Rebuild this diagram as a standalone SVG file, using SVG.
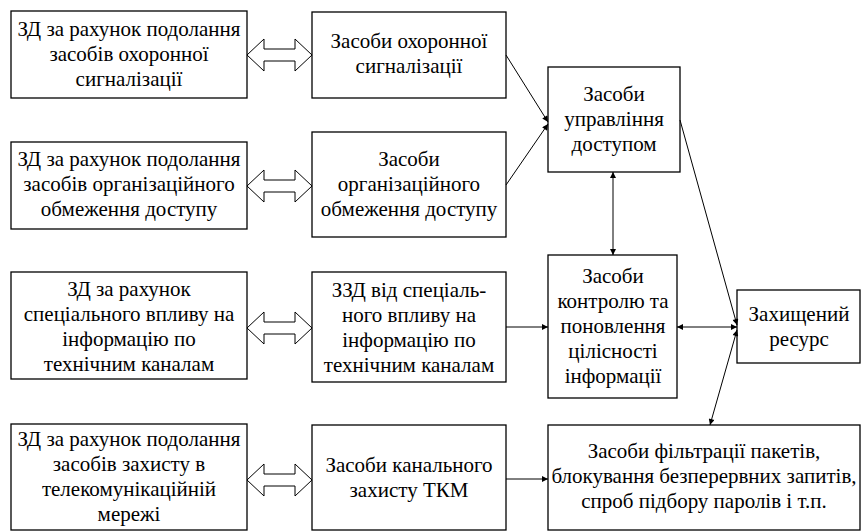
<svg xmlns="http://www.w3.org/2000/svg" width="861" height="531" viewBox="0 0 861 531">
<defs>
<style>
.box{fill:#fff;stroke:#000;stroke-width:1.3}
text{font-family:'Liberation Serif','Times New Roman',serif;font-size:21px;fill:#000;text-anchor:middle}
.c{stroke:#000;stroke-width:1;fill:none}
.ba{fill:#fff;stroke:#000;stroke-width:1}
</style>
<marker id="ah" viewBox="0 0 10 10" refX="10" refY="5" markerWidth="9" markerHeight="6" markerUnits="userSpaceOnUse" orient="auto-start-reverse">
<path d="M0,0 L10,5 L0,10 z" fill="#000"/>
</marker>
</defs>
<g id="L1"><rect class="box" x="11" y="11" width="236" height="87"/>
<text x="129" y="36">ЗД за рахунок подолання</text><text x="129" y="61">засобів охоронної</text><text x="129" y="86">сигналізації</text></g>
<g id="M1"><rect class="box" x="312" y="12" width="194" height="86"/>
<text x="409" y="48">Засоби охоронної</text><text x="409" y="73">сигналізації</text></g>
<g id="A"><rect class="box" x="548" y="67" width="132" height="105"/>
<text x="614" y="101">Засоби</text><text x="614" y="126">управління</text><text x="614" y="151">доступом</text></g>
<g id="L2"><rect class="box" x="11" y="142" width="236" height="87"/>
<text x="129" y="166">ЗД за рахунок подолання</text><text x="129" y="191">засобів організаційного</text><text x="129" y="216">обмеження доступу</text></g>
<g id="M2"><rect class="box" x="312" y="132" width="194" height="105"/>
<text x="409" y="166">Засоби</text><text x="409" y="191">організаційного</text><text x="409" y="216">обмеження доступу</text></g>
<g id="L3"><rect class="box" x="11" y="272" width="236" height="107"/>
<text x="129" y="296">ЗД за рахунок</text><text x="129" y="321">спеціального впливу на</text><text x="129" y="346">інформацію по</text><text x="129" y="371">технічним каналам</text></g>
<g id="M3"><rect class="box" x="312" y="272" width="194" height="110"/>
<text x="409" y="297">ЗЗД від спеціаль-</text><text x="409" y="322">ного впливу на</text><text x="409" y="347">інформацію по</text><text x="409" y="372">технічним каналам</text></g>
<g id="C"><rect class="box" x="548" y="255" width="129" height="143"/>
<text x="613" y="283">Засоби</text><text x="613" y="308">контролю та</text><text x="613" y="333">поновлення</text><text x="613" y="358">цілісності</text><text x="613" y="383">інформації</text></g>
<g id="R"><rect class="box" x="737" y="290" width="123" height="73"/>
<text x="799" y="321">Захищений</text><text x="799" y="346">ресурс</text></g>
<g id="L4"><rect class="box" x="11" y="424" width="236" height="106"/>
<text x="129" y="446">ЗД за рахунок подолання</text><text x="129" y="471">засобів захисту в</text><text x="129" y="496">телекомунікаційній</text><text x="129" y="521">мережі</text></g>
<g id="M4"><rect class="box" x="312" y="425" width="194" height="105"/>
<text x="409" y="472">Засоби канального</text><text x="409" y="497">захисту ТКМ</text></g>
<g id="F"><rect class="box" x="548" y="425" width="312" height="105"/>
<text x="704" y="458">Засоби фільтрації пакетів,</text><text x="704" y="483">блокування безперервних запитів,</text><text x="704" y="508">спроб підбору паролів і т.п.</text></g>
<g id="connectors">
<polygon class="ba" points="247,55 264,39 264,49 295,49 295,39 312,55 295,71 295,61 264,61 264,71"/>
<polygon class="ba" points="247,186 264,170 264,180 295,180 295,170 312,186 295,202 295,192 264,192 264,202"/>
<polygon class="ba" points="247,328 264,312 264,322 295,322 295,312 312,328 295,344 295,334 264,334 264,344"/>
<polygon class="ba" points="247,480 264,464 264,474 295,474 295,464 312,480 295,496 295,486 264,486 264,496"/>
<line class="c" x1="506" y1="55" x2="548" y2="122" marker-end="url(#ah)"/>
<line class="c" x1="506" y1="185" x2="548" y2="124" marker-end="url(#ah)"/>
<line class="c" x1="613" y1="172" x2="613" y2="255" marker-start="url(#ah)" marker-end="url(#ah)"/>
<line class="c" x1="680" y1="120" x2="737" y2="325" marker-end="url(#ah)"/>
<line class="c" x1="677" y1="327" x2="737" y2="327" marker-start="url(#ah)" marker-end="url(#ah)"/>
<line class="c" x1="737" y1="330" x2="710" y2="425" marker-start="url(#ah)" marker-end="url(#ah)"/>
<line class="c" x1="506" y1="327" x2="548" y2="327" marker-end="url(#ah)"/>
<line class="c" x1="506" y1="479" x2="548" y2="479" marker-end="url(#ah)"/>
</g>
</svg>
